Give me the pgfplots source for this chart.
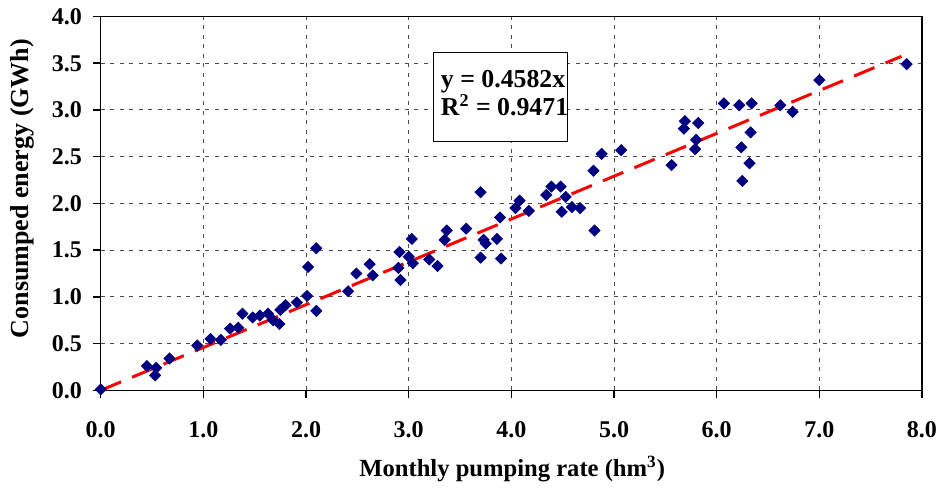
\documentclass[border=0pt]{standalone}
\usepackage{fontspec}
\setmainfont{Liberation Serif}
\usepackage{pgfplots}
\pgfplotsset{compat=1.18}
\definecolor{navyb}{RGB}{0,0,128}
\definecolor{trend}{RGB}{255,0,0}
\begin{document}
\begin{tikzpicture}
\begin{axis}[
  name=ax,
  scale only axis, width=410.5pt, height=186.85pt,
  xmin=0, xmax=8, ymin=0, ymax=4,
  xtick={0,1,2,3,4,5,6,7,8},
  xticklabels={0.0,1.0,2.0,3.0,4.0,5.0,6.0,7.0,8.0},
  ytick={0,0.5,1,1.5,2,2.5,3,3.5,4},
  yticklabels={0.0,0.5,1.0,1.5,2.0,2.5,3.0,3.5,4.0},
  axis line style={line width=0.75pt, black},
  tick style={black, line width=0.75pt},
  major tick length=4pt,
  tick align=outside, tick pos=left,
  grid=major,
  major grid style={black!70, line width=0.5pt, dash pattern=on 2pt off 2.75pt},
  ticklabel style={font=\fontsize{12}{14}\selectfont\bfseries},
  xticklabel style={yshift=-8.2pt},
  yticklabel style={xshift=-1.9pt},
  clip=false,
]
\addplot[only marks, mark=square*, mark size=1.95pt,
  mark options={rotate=45, fill=navyb, draw=navyb}] coordinates {
(0.00,0.01) (0.45,0.26) (0.54,0.24) (0.53,0.16) (0.67,0.34) (0.94,0.48)
(1.07,0.55) (1.17,0.54) (1.26,0.66) (1.34,0.67) (1.38,0.82) (1.48,0.78)
(1.55,0.80) (1.63,0.82) (1.68,0.75) (1.74,0.71) (1.75,0.86) (1.80,0.91)
(1.91,0.94) (2.01,1.01) (2.10,0.85) (2.02,1.32) (2.10,1.52) (2.41,1.06)
(2.49,1.25) (2.62,1.35) (2.65,1.23) (2.91,1.48) (2.90,1.31) (2.92,1.18)
(3.00,1.43) (3.04,1.36) (3.03,1.62) (3.20,1.40) (3.28,1.33) (3.35,1.61)
(3.37,1.71) (3.56,1.73) (3.70,2.12) (3.70,1.42) (3.73,1.61) (3.75,1.57)
(3.86,1.62) (3.89,1.85) (3.90,1.41) (4.04,1.95) (4.08,2.03) (4.17,1.92)
(4.34,2.09) (4.39,2.18) (4.48,2.18) (4.53,2.07) (4.49,1.91) (4.59,1.96)
(4.67,1.95) (4.80,2.35) (4.81,1.71) (4.88,2.53) (5.07,2.57) (5.56,2.41)
(5.68,2.80) (5.69,2.88) (5.82,2.86) (5.80,2.68) (5.79,2.58) (6.07,3.07)
(6.22,3.05) (6.34,3.07) (6.33,2.76) (6.24,2.60) (6.32,2.43) (6.25,2.24)
(6.62,3.05) (6.74,2.98) (7.00,3.32) (7.85,3.49)
};
\addplot[trend, line width=1.5pt, dash pattern=on 11pt off 6pt, mark=none]
  coordinates {(0,0) (7.8,3.574)};
\draw[black, line width=0.6pt, fill=white] (axis cs:3.245,3.616) rectangle (axis cs:4.55,2.663);
\node[anchor=base west, inner sep=0pt, font=\fontsize{12.9}{14}\selectfont\bfseries]
  at (axis cs:3.31,3.24) {y = 0.4582x};
\node[anchor=base west, inner sep=0pt, font=\fontsize{12.9}{14}\selectfont\bfseries]
  at (axis cs:3.31,2.94) {R\textsuperscript{2} = 0.9471};
\node[rotate=90, anchor=center, font=\fontsize{13}{15}\selectfont\bfseries]
  at ([xshift=-39.35pt]rel axis cs:0,0.54) {Consumped energy (GWh)};
\node[anchor=base, font=\fontsize{12.3}{14}\selectfont\bfseries]
  at ([yshift=-43.15pt]rel axis cs:0.501,0) {Monthly pumping rate (hm\textsuperscript{3})};
\end{axis}
\pgfresetboundingbox
\path[use as bounding box] ([xshift=-50.35pt,yshift=-50.15pt]ax.south west)
  rectangle ([xshift=10.5pt,yshift=8.25pt]ax.north east);
\end{tikzpicture}
\end{document}
